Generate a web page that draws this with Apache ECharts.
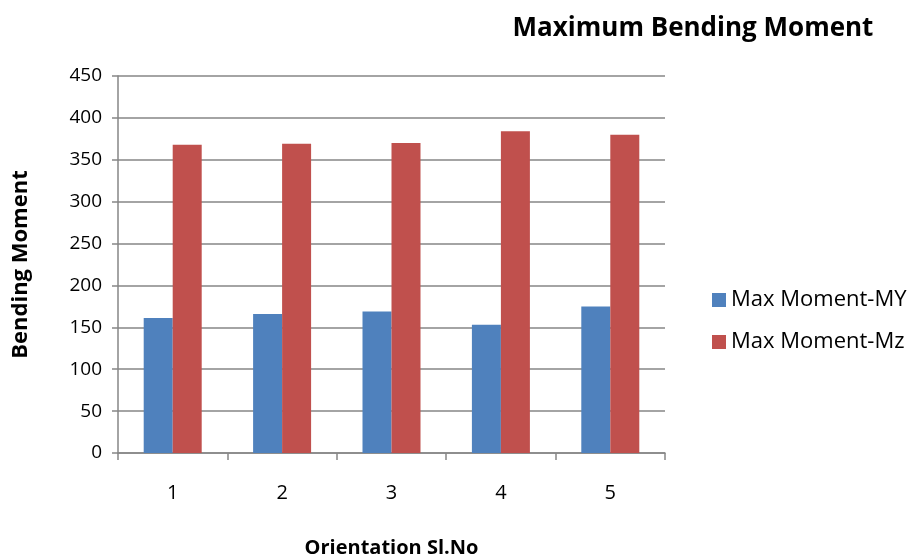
<!DOCTYPE html>
<html>
<head>
<meta charset="utf-8">
<script src="https://cdn.jsdelivr.net/npm/echarts@6/dist/echarts.min.js"></script>
<style>
  html, body { margin: 0; padding: 0; background: #fff; }
  #chart { width: 920px; height: 559px; }
</style>
</head>
<body>
<div id="chart"></div>
<script>
// Orientation serial numbers and the two moment components
const categories = ['1', '2', '3', '4', '5'];
const momentMY = [161, 166, 169, 153, 175];
const momentMz = [368, 369, 370, 384, 380];
const yTicks = { min: 0, max: 450, interval: 50 };

const FONT = '"Open Sans", sans-serif';
const AXIS_GREY = '#868686';

const chart = echarts.init(document.getElementById('chart'));
chart.setOption({
  animation: false,
  title: {
    text: 'Maximum Bending Moment',
    left: 688, top: 11, textAlign: 'center',
    textStyle: { fontFamily: FONT, fontSize: 26, fontWeight: 'bold', color: '#000' }
  },
  legend: {
    orient: 'vertical',
    left: 707, top: 284,
    itemWidth: 14, itemHeight: 14, itemGap: 20,
    icon: 'rect',
    textStyle: { fontFamily: FONT, fontSize: 22, color: '#000' },
    data: ['Max Moment-MY', 'Max Moment-Mz']
  },
  grid: { left: 118, right: 255, top: 76, bottom: 106, outerBoundsMode: 'none' },
  xAxis: {
    type: 'category',
    data: categories,
    name: 'Orientation Sl.No',
    nameLocation: 'middle',
    nameGap: 85,
    nameTextStyle: { fontFamily: FONT, fontSize: 20, fontWeight: 'bold', color: '#000' },
    axisLine: { lineStyle: { color: AXIS_GREY, width: 1.5 } },
    axisTick: { show: true, alignWithLabel: false, length: 7, lineStyle: { color: AXIS_GREY, width: 1.5 } },
    axisLabel: { margin: 30, fontFamily: FONT, fontSize: 20, color: '#000' }
  },
  yAxis: {
    type: 'value',
    min: yTicks.min, max: yTicks.max, interval: yTicks.interval,
    name: 'Bending Moment',
    nameLocation: 'middle',
    nameGap: 86,
    nameRotate: 90,
    nameTextStyle: { fontFamily: FONT, fontSize: 22, fontWeight: 'bold', color: '#000' },
    axisLine: { show: true, lineStyle: { color: AXIS_GREY, width: 1.5 } },
    axisTick: { show: true, inside: false, length: 6, lineStyle: { color: AXIS_GREY, width: 1.5 } },
    axisLabel: { margin: 16, fontFamily: FONT, fontSize: 19, color: '#000' },
    splitLine: { lineStyle: { color: AXIS_GREY, width: 1.5 } }
  },
  series: [
    {
      name: 'Max Moment-MY', type: 'bar', data: momentMY,
      barWidth: 29, barGap: '0%',
      itemStyle: { color: '#4F81BD' }
    },
    {
      name: 'Max Moment-Mz', type: 'bar', data: momentMz,
      barWidth: 29, barGap: '0%',
      itemStyle: { color: '#C0504D' }
    }
  ]
});
</script>
</body>
</html>
